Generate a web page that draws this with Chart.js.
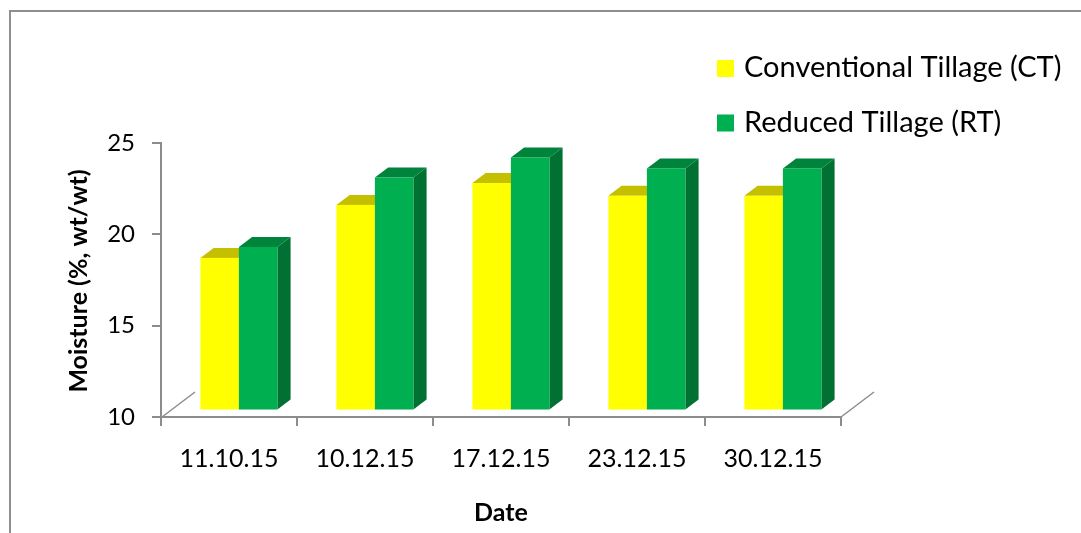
<!DOCTYPE html>
<html>
<head>
<meta charset="utf-8">
<script src="https://cdn.jsdelivr.net/npm/chart.js@4.4.0/dist/chart.umd.min.js"></script>
<style>
  body { margin: 0; background: #fff; }
  canvas { display: block; }
</style>
</head>
<body>
<canvas id="moistureChart" width="1081" height="533"></canvas>
<script>
// Chart data
const dates = ['11.10.15', '10.12.15', '17.12.15', '23.12.15', '30.12.15'];
const ctValues = [18.3, 21.2, 22.4, 21.7, 21.7];
const rtValues = [18.9, 22.7, 23.8, 23.2, 23.2];
const yTicks = [10, 15, 20, 25];

// Face colours for the 3D look: front, top, side
const ctFaces = ['#ffff00', '#c4c000', '#a3a000'];
const rtFaces = ['#00b050', '#00843c', '#007033'];

const FONT = 'Lato, "Noto Sans", sans-serif';
const AXIS_GREY = '#8c8c8c';

// floor depth of the 3D plot, bars sit in the middle of it
const depth = { x: 33, y: -25 };
const barFront = 0.3;
const barDepth = 0.4;

// Draws the chart frame (only left and top edges are inside the picture)
const framePlugin = {
  id: 'frame',
  beforeDraw(chart) {
    const ctx = chart.ctx;
    ctx.save();
    ctx.fillStyle = '#fff';
    ctx.fillRect(0, 0, chart.width, chart.height);
    ctx.strokeStyle = '#8f8f8f';
    ctx.lineWidth = 2;
    ctx.beginPath();
    ctx.moveTo(10, chart.height + 2);
    ctx.lineTo(10, 11);
    ctx.lineTo(chart.width + 2, 11);
    ctx.stroke();
    ctx.restore();
  }
};

// Draws each bar as a box with front, top and side faces
const bars3dPlugin = {
  id: 'bars3d',
  beforeDatasetsDraw(chart) {
    const ctx = chart.ctx;
    const area = chart.chartArea;
    const yScale = chart.scales.y;
    const floorY = yScale.getPixelForValue(yScale.min);
    const fx = depth.x * barFront, fy = depth.y * barFront;
    const dx = depth.x * barDepth, dy = depth.y * barDepth;

    // floor edges at both ends of the axis
    ctx.save();
    ctx.strokeStyle = AXIS_GREY;
    ctx.lineWidth = 1.5;
    ctx.beginPath();
    ctx.moveTo(area.left + 1, area.bottom);
    ctx.lineTo(area.left + 1 + depth.x, area.bottom + depth.y);
    ctx.moveTo(area.right, area.bottom);
    ctx.lineTo(area.right + depth.x, area.bottom + depth.y);
    ctx.stroke();

    const metas = chart.data.datasets.map((ds, i) => chart.getDatasetMeta(i));
    for (let c = 0; c < dates.length; c++) {
      metas.forEach((meta, i) => {
        const bar = meta.data[c];
        const faces = chart.data.datasets[i].faces;
        const left = bar.x - bar.width / 2 + fx;
        const right = bar.x + bar.width / 2 + fx;
        const top = bar.y + fy;
        const bottom = floorY + fy;

        // side
        ctx.fillStyle = faces[2];
        ctx.beginPath();
        ctx.moveTo(right, top);
        ctx.lineTo(right + dx, top + dy);
        ctx.lineTo(right + dx, bottom + dy);
        ctx.lineTo(right, bottom);
        ctx.closePath();
        ctx.fill();

        // top
        ctx.fillStyle = faces[1];
        ctx.beginPath();
        ctx.moveTo(left, top);
        ctx.lineTo(left + dx, top + dy);
        ctx.lineTo(right + dx, top + dy);
        ctx.lineTo(right, top);
        ctx.closePath();
        ctx.fill();

        // front
        ctx.fillStyle = faces[0];
        ctx.fillRect(left, top, right - left, bottom - top);
      });
    }
    ctx.restore();
    return false;
  }
};

// Legend and axis titles
const labelsPlugin = {
  id: 'labels',
  afterDraw(chart) {
    const ctx = chart.ctx;
    const area = chart.chartArea;
    ctx.save();
    ctx.fillStyle = '#000';

    // legend
    ctx.font = '29px ' + FONT;
    ctx.textAlign = 'left';
    ctx.textBaseline = 'alphabetic';
    chart.data.datasets.forEach((ds, i) => {
      const y = 77 + i * 54.5;
      ctx.fillStyle = ds.faces[0];
      ctx.fillRect(717, y - 17, 17, 17);
      ctx.fillStyle = '#000';
      ctx.fillText(ds.label, 744, y);
    });

    // x title
    ctx.font = 'bold 25px ' + FONT;
    ctx.textAlign = 'center';
    ctx.fillText('Date', (area.left + area.right) / 2, 521);

    // y title
    ctx.translate(87, (area.top + area.bottom) / 2 + 1);
    ctx.rotate(-Math.PI / 2);
    ctx.fillText('Moisture (%, wt/wt)', 0, 0);
    ctx.restore();
  }
};

const ctx = document.getElementById('moistureChart').getContext('2d');
new Chart(ctx, {
  type: 'bar',
  data: {
    labels: dates,
    datasets: [
      { label: 'Conventional Tillage (CT)', data: ctValues, backgroundColor: ctFaces[0], faces: ctFaces },
      { label: 'Reduced Tillage (RT)', data: rtValues, backgroundColor: rtFaces[0], faces: rtFaces }
    ]
  },
  options: {
    responsive: false,
    animation: false,
    layout: { padding: { top: 143, right: 240, left: 0, bottom: 0 } },
    plugins: {
      legend: { display: false },
      tooltip: { enabled: false }
    },
    datasets: {
      bar: { categoryPercentage: 0.566, barPercentage: 1 }
    },
    scales: {
      x: {
        grid: { drawOnChartArea: false, drawTicks: true, tickLength: 9, color: AXIS_GREY, lineWidth: 2 },
        border: { display: true, color: AXIS_GREY, width: 2 },
        ticks: { color: '#000', font: { family: FONT, size: 25 }, padding: 18 },
        afterFit(scale) { scale.height = 116; }
      },
      y: {
        min: 10,
        max: 25,
        afterBuildTicks(scale) { scale.ticks = yTicks.map(v => ({ value: v })); },
        grid: { drawOnChartArea: false, drawTicks: true, tickLength: 9, color: AXIS_GREY, lineWidth: 2 },
        border: { display: true, color: AXIS_GREY, width: 2 },
        ticks: { color: '#000', font: { family: FONT, size: 24 }, padding: 17 },
        afterFit(scale) { scale.width = 161; }
      }
    }
  },
  plugins: [framePlugin, bars3dPlugin, labelsPlugin]
});
</script>
</body>
</html>
